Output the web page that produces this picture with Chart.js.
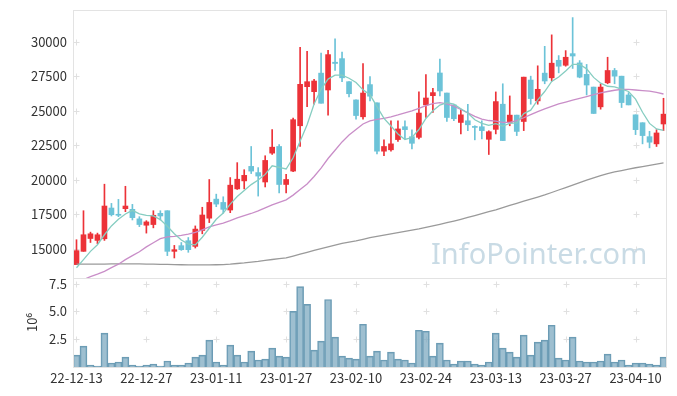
<!DOCTYPE html>
<html>
<head>
<meta charset="utf-8">
<script src="https://cdn.jsdelivr.net/npm/chart.js@4.4.0/dist/chart.umd.min.js"></script>
<style>
    html, body { margin: 0; padding: 0; background: #fff; }
    #wrap { position: relative; width: 677px; height: 396px; }
    #priceBox { position: absolute; left: 0; top: 0; width: 677px; height: 278px; }
    #volBox { position: absolute; left: 0; top: 278px; width: 677px; height: 118px; }
</style>
</head>
<body>
<div id="wrap">
    <div id="priceBox"><canvas id="price"></canvas></div>
    <div id="volBox"><canvas id="vol"></canvas></div>
</div>
<script>
const dates = [
    '22-12-13','22-12-14','22-12-15','22-12-16','22-12-19','22-12-20','22-12-21','22-12-22','22-12-23','22-12-26',
    '22-12-27','22-12-28','22-12-29','23-01-02','23-01-03','23-01-04','23-01-05','23-01-06','23-01-09','23-01-10',
    '23-01-11','23-01-12','23-01-13','23-01-16','23-01-17','23-01-18','23-01-19','23-01-20','23-01-25','23-01-26',
    '23-01-27','23-01-30','23-01-31','23-02-01','23-02-02','23-02-03','23-02-06','23-02-07','23-02-08','23-02-09',
    '23-02-10','23-02-13','23-02-14','23-02-15','23-02-16','23-02-17','23-02-20','23-02-21','23-02-22','23-02-23',
    '23-02-24','23-02-27','23-02-28','23-03-02','23-03-03','23-03-06','23-03-07','23-03-08','23-03-09','23-03-10',
    '23-03-13','23-03-14','23-03-15','23-03-16','23-03-17','23-03-20','23-03-21','23-03-22','23-03-23','23-03-24',
    '23-03-27','23-03-28','23-03-29','23-03-30','23-03-31','23-04-03','23-04-04','23-04-05','23-04-06','23-04-07',
    '23-04-10','23-04-11','23-04-12','23-04-13','23-04-14'
];

const opens = [
    13870,14830,15760,15620,15740,17965,17510,17920,17870,17180,
    16720,16770,17580,17770,14830,15240,15600,15190,16340,17230,
    18610,18370,17820,19350,19930,20980,20530,19850,21940,22420,
    19670,20640,23920,26750,26390,27730,26510,28520,28780,27110,
    25790,24570,26900,25580,22080,22180,22920,23850,23130,23080,
    25430,26100,27740,26290,25430,24160,24280,23850,23850,22940,
    23660,25480,24160,24690,24230,27230,25720,27730,27390,28660,
    28300,29140,28470,27640,26720,25290,27030,27920,27510,26150,
    24710,24140,23130,22610,24050
];
const highs = [
    15670,17770,16220,16150,19690,18300,18590,19540,18230,17340,
    17050,17770,17770,17770,15260,15470,15830,16670,18020,20030,
    18970,18780,20170,21250,20740,22420,20890,21750,23640,22560,
    20410,24480,29600,29310,27280,29190,29380,30220,29260,27110,
    25790,28430,27480,25580,22900,24280,24280,24280,23620,26370,
    27630,26630,28740,26290,25430,25120,25480,23920,24280,23560,
    26370,26960,26080,24690,27440,27510,28260,29670,30500,29000,
    29360,31750,28640,28360,26720,26960,28880,28070,27510,26320,
    24710,24140,23520,23640,25910
];
const lows = [
    13870,14830,15470,15380,15620,17390,17340,17700,17100,16620,
    16150,16530,17100,14520,14350,14900,14760,15070,16100,16910,
    18060,17590,17630,19310,19350,20460,18830,19490,21840,19060,
    19060,20600,22420,25310,25480,25550,24690,27920,27110,26000,
    24400,24400,25720,21890,21750,22080,22780,22970,22250,22970,
    24520,24880,26080,24230,24280,23330,23570,22900,22970,21840,
    23330,22850,23920,23210,23570,25480,25480,26960,27160,27750,
    28230,28070,27390,26150,24810,25120,26960,26960,25240,25430,
    23280,22610,22320,22420,23570
];
const closes = [
    14880,16030,16100,16030,18110,17480,17440,18110,17270,16770,
    16960,17440,17390,14830,14950,14950,14950,16440,17460,18370,
    18250,17870,19620,20050,20330,20640,20280,21410,22370,19670,
    20030,24360,26920,27110,27160,25550,29070,28430,27390,26240,
    24660,26290,26060,22080,22420,22610,23690,23640,22650,24840,
    25930,26320,26440,24520,24430,24710,23990,23800,23570,23490,
    25670,22850,24690,23510,27440,25890,26560,27160,28450,28230,
    28880,28970,27440,26870,24810,26720,27920,27510,25600,25430,
    23640,23210,22730,23400,24760
];

// 이동평균선
const ma5 = [
    13640,14230,14830,15310,16030,16670,17150,17530,17800,17550,
    17440,17390,17130,16650,16100,15650,15350,15300,15850,16500,
    17150,17600,18250,18800,19240,19660,20000,20400,21020,20900,
    20790,21600,22800,24000,25500,26550,27300,27580,27580,27360,
    27050,26520,26160,25300,24450,23900,23330,22930,23070,23650,
    24450,25000,25420,25600,25480,25150,24850,24350,24100,23950,
    24080,23900,24100,24130,24800,25050,25800,26400,27130,27450,
    27890,28370,28370,28040,27420,27000,26780,26740,26570,26400,
    25850,24900,24090,23690,23590
];
const ma20 = [
    12550,12780,13000,13180,13380,13650,13900,14230,14520,14800,
    15150,15450,15750,15880,15920,15980,16080,16200,16380,16600,
    16750,16880,17050,17250,17420,17570,17760,17980,18200,18380,
    18560,18900,19300,19700,20250,20850,21550,22150,22750,23250,
    23650,24050,24280,24380,24460,24570,24700,24850,25000,25180,
    25370,25520,25590,25500,25340,25100,24850,24600,24400,24300,
    24250,24170,24160,24300,24500,24720,24950,25150,25330,25500,
    25640,25780,25900,26030,26170,26300,26400,26490,26560,26560,
    26510,26470,26430,26330,26220
];
const ma60 = [
    13900,13900,13900,13910,13910,13920,13920,13920,13920,13920,
    13910,13900,13890,13880,13870,13860,13850,13850,13850,13850,
    13860,13870,13900,13950,13990,14050,14100,14170,14240,14300,
    14350,14480,14620,14760,14900,15030,15160,15280,15400,15500,
    15590,15700,15820,15910,16000,16090,16180,16270,16360,16450,
    16560,16670,16780,16900,17020,17150,17280,17420,17560,17700,
    17840,18000,18160,18310,18460,18610,18760,18910,19090,19270,
    19450,19630,19810,19980,20150,20310,20460,20580,20680,20780,
    20880,20970,21060,21150,21240
];

// 거래량 (단위 10^6)
const volumes = [
    1.07,1.88,0.18,0.09,3.04,0.36,0.45,0.89,0.18,0.09,
    0.18,0.27,0.09,0.54,0.18,0.18,0.36,0.89,1.07,2.41,
    0.45,0.18,1.96,1.07,0.45,1.43,0.63,0.71,1.70,0.98,
    0.89,5.00,7.23,5.63,1.52,2.32,6.07,2.68,0.98,0.80,
    0.71,3.84,0.98,1.43,0.63,1.34,0.71,0.63,0.36,3.30,
    3.21,0.98,2.14,0.63,0.27,0.54,0.54,0.27,0.18,0.45,
    3.04,1.70,1.34,0.89,2.86,1.07,2.23,2.41,3.75,0.80,
    0.63,2.68,0.54,0.45,0.45,0.54,1.16,0.45,0.63,0.18,
    0.36,0.36,0.27,0.18,0.89
];

const priceTicks = [15000, 17500, 20000, 22500, 25000, 27500, 30000];
const volTicks = [2.5, 5.0, 7.5];

const UP = '#ec3238';
const DOWN = '#6cc3d8';
const FONT = '"Noto Sans CJK KR", "Noto Sans", sans-serif';

const candleColors = closes.map((c, i) => c >= opens[i] ? UP : DOWN);

// 교차점에 + 표시
const crossGrid = {
    id: 'crossGrid',
    beforeDatasetsDraw(chart) {
        const { ctx, scales } = chart;
        const x = scales.x, y = scales.y;
        ctx.save();
        ctx.strokeStyle = '#e0e0e0';
        ctx.lineWidth = 1;
        x.ticks.forEach((t, i) => {
            if (i % 10 !== 0) return;
            const px = Math.round(x.getPixelForTick(i)) + 0.5;
            y.ticks.forEach((yt, j) => {
                const py = Math.round(y.getPixelForTick(j)) + 0.5;
                ctx.beginPath();
                ctx.moveTo(px - 3, py); ctx.lineTo(px + 3, py);
                ctx.moveTo(px, py - 3); ctx.lineTo(px, py + 3);
                ctx.stroke();
            });
        });
        ctx.restore();
    }
};

const frame = {
    id: 'frame',
    afterDraw(chart) {
        const { ctx, chartArea: a } = chart;
        ctx.save();
        ctx.strokeStyle = '#e3e3e3';
        ctx.lineWidth = 1;
        ctx.strokeRect(Math.round(a.left) + 0.5, Math.round(a.top) + 0.5,
            Math.round(a.right - a.left) - 1, Math.round(a.bottom - a.top));
        ctx.restore();
    }
};

const watermark = {
    id: 'watermark',
    beforeDatasetsDraw(chart) {
        const { ctx } = chart;
        ctx.save();
        ctx.font = '29px "Noto Sans", sans-serif';
        ctx.fillStyle = '#c9dbe5';
        ctx.textBaseline = 'alphabetic';
        ctx.fillText('InfoPointer.com', 431, 264);
        ctx.restore();
    }
};

// 축 폭과 여백 고정
function fixY(scale) {
    scale.width = 73;
    scale.paddingTop = 0;
    scale.paddingBottom = 0;
}

new Chart(document.getElementById('price'), {
    data: {
        labels: dates,
        datasets: [
            {
                type: 'line', label: 'MA5', data: ma5,
                borderColor: '#86cdc1', borderWidth: 1.3, pointRadius: 0, order: 0
            },
            {
                type: 'line', label: 'MA20', data: ma20,
                borderColor: '#c98ec8', borderWidth: 1.3, pointRadius: 0, order: 0
            },
            {
                type: 'line', label: 'MA60', data: ma60,
                borderColor: '#9a9a9a', borderWidth: 1.3, pointRadius: 0, order: 0
            },
            {
                type: 'bar', label: 'body', data: opens.map((o, i) => [o, closes[i]]),
                backgroundColor: candleColors, barThickness: 5, grouped: false,
                minBarLength: 1, order: 1
            },
            {
                type: 'bar', label: 'wick', data: lows.map((l, i) => [l, highs[i]]),
                backgroundColor: candleColors, barThickness: 1, grouped: false, order: 2
            }
        ]
    },
    options: {
        responsive: true,
        maintainAspectRatio: false,
        animation: false,
        layout: { padding: { top: 10, right: 10, left: 0, bottom: 0 } },
        plugins: { legend: { display: false }, tooltip: { enabled: false } },
        scales: {
            x: { display: false, offset: true },
            y: {
                min: 12900, max: 32300,
                afterFit: fixY,
                afterBuildTicks: scale => { scale.ticks = priceTicks.map(v => ({ value: v })); },
                grid: { display: false, drawTicks: false },
                border: { display: false },
                ticks: {
                    padding: 6, color: '#333', font: { family: FONT, size: 13 },
                    callback: v => String(v)
                }
            }
        }
    },
    plugins: [crossGrid, watermark, frame]
});

new Chart(document.getElementById('vol'), {
    data: {
        labels: dates,
        datasets: [{
            type: 'bar', label: 'volume', data: volumes,
            backgroundColor: 'rgba(120,166,190,0.72)',
            borderColor: '#6b9bb4', borderWidth: 1,
            barPercentage: 1, categoryPercentage: 1
        }]
    },
    options: {
        responsive: true,
        maintainAspectRatio: false,
        animation: false,
        layout: { padding: { top: 0, right: 10, left: 0, bottom: 0 } },
        plugins: { legend: { display: false }, tooltip: { enabled: false } },
        scales: {
            x: {
                afterFit: scale => { scale.height = 29; scale.paddingLeft = 0; scale.paddingRight = 0; },
                grid: { display: false, drawTicks: false },
                border: { display: false },
                ticks: {
                    autoSkip: false, maxRotation: 0, padding: 3, color: '#333',
                    font: { family: FONT, size: 13 },
                    callback: (v, i) => i % 10 === 0 ? dates[i] : ''
                }
            },
            y: {
                min: 0, max: 8,
                afterFit: fixY,
                afterBuildTicks: scale => { scale.ticks = volTicks.map(v => ({ value: v })); },
                grid: { display: false, drawTicks: false },
                border: { display: false },
                title: {
                    display: true, text: '10⁶', color: '#333',
                    font: { family: FONT, size: 13 }, padding: { top: 24, bottom: 0 }
                },
                ticks: {
                    padding: 6, color: '#333', font: { family: FONT, size: 13 },
                    callback: v => v.toFixed(1)
                }
            }
        }
    },
    plugins: [crossGrid, frame]
});
</script>
</body>
</html>
